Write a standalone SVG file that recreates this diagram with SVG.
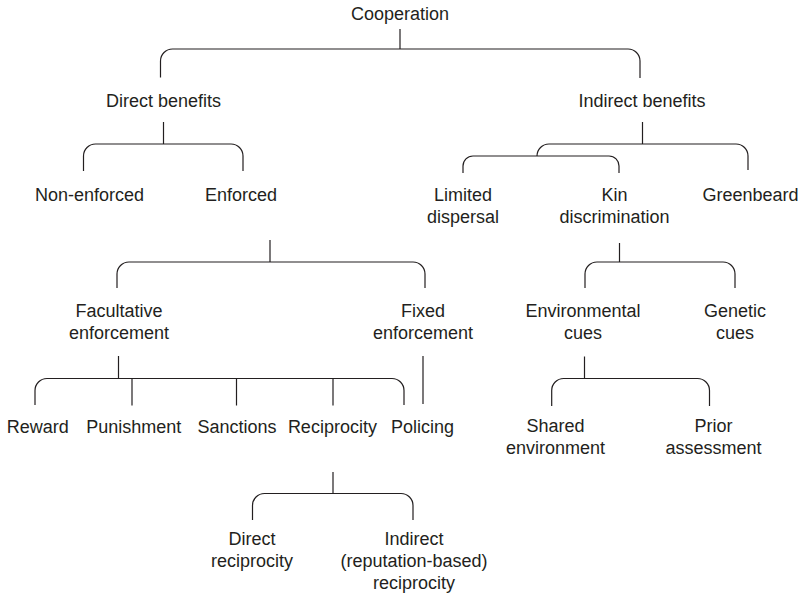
<svg xmlns="http://www.w3.org/2000/svg" width="806" height="595" viewBox="0 0 806 595">
<style>
text { font-family: "Liberation Sans", Arial, sans-serif; font-size: 18px; fill: #231f20; text-anchor: middle; }
.c path { fill: none; stroke: #231f20; stroke-width: 1.2; }
</style>
<rect width="806" height="595" fill="#ffffff"/>
<g class="c" id="connectors">
<path d="M400,29 V49"/>
<path d="M160.5,77.5 V61 A12,12 0 0 1 172.5,49 H628 A12,12 0 0 1 640,61 V78"/>
<path d="M163.5,122 V144"/>
<path d="M83.5,171 V156 A12,12 0 0 1 95.5,144 H231 A12,12 0 0 1 243,156 V171"/>
<path d="M642.5,122 V144"/>
<path d="M537,156 A12,12 0 0 1 549,144 H736 A12,12 0 0 1 748,156 V170"/>
<path d="M463,173 V166 A10,10 0 0 1 473,156 H609 A10,10 0 0 1 619,166 V173"/>
<path d="M270,240 V262"/>
<path d="M117,288 V274 A12,12 0 0 1 129,262 H413 A12,12 0 0 1 425,274 V288"/>
<path d="M619.5,243 V262"/>
<path d="M585,288 V274 A12,12 0 0 1 597,262 H723 A12,12 0 0 1 735,274 V288"/>
<path d="M118.5,356 V378.5"/>
<path d="M35,405 V390.5 A12,12 0 0 1 47,378.5 H392 A12,12 0 0 1 404,390.5 V405"/>
<path d="M132,378.5 V405.5"/>
<path d="M236.5,378.5 V405.5"/>
<path d="M333,378.5 V405.5"/>
<path d="M423,356 V404"/>
<path d="M584.5,356.5 V378.5"/>
<path d="M551.7,406 V390.5 A12,12 0 0 1 563.7,378.5 H697.5 A12,12 0 0 1 709.5,390.5 V406"/>
<path d="M333,472 V493.5"/>
<path d="M252.5,520 V505.5 A12,12 0 0 1 264.5,493.5 H401 A12,12 0 0 1 413,505.5 V520"/>
</g>
<g id="cooperation"><text x="400" y="20">Cooperation</text></g>
<g id="direct-benefits"><text x="163.5" y="107">Direct benefits</text></g>
<g id="indirect-benefits"><text x="642" y="107">Indirect benefits</text></g>
<g id="non-enforced"><text x="89.5" y="201">Non-enforced</text></g>
<g id="enforced"><text x="241" y="201">Enforced</text></g>
<g id="limited-dispersal"><text x="463" y="201">Limited</text><text x="463" y="223">dispersal</text></g>
<g id="kin-discrimination"><text x="614.5" y="201">Kin</text><text x="614.5" y="223">discrimination</text></g>
<g id="greenbeard"><text x="750.5" y="201">Greenbeard</text></g>
<g id="facultative-enforcement"><text x="119" y="317">Facultative</text><text x="119" y="338.5">enforcement</text></g>
<g id="fixed-enforcement"><text x="423" y="317">Fixed</text><text x="423" y="338.5">enforcement</text></g>
<g id="environmental-cues"><text x="583" y="317">Environmental</text><text x="583" y="338.5">cues</text></g>
<g id="genetic-cues"><text x="735" y="317">Genetic</text><text x="735" y="338.5">cues</text></g>
<g id="reward"><text x="37.8" y="433">Reward</text></g>
<g id="punishment"><text x="133.7" y="433">Punishment</text></g>
<g id="sanctions"><text x="237" y="433">Sanctions</text></g>
<g id="reciprocity"><text x="332.4" y="433">Reciprocity</text></g>
<g id="policing"><text x="422.5" y="433">Policing</text></g>
<g id="shared-environment"><text x="555.5" y="432">Shared</text><text x="555.5" y="454">environment</text></g>
<g id="prior-assessment"><text x="713.5" y="432">Prior</text><text x="713.5" y="454">assessment</text></g>
<g id="direct-reciprocity"><text x="252" y="545">Direct</text><text x="252" y="567">reciprocity</text></g>
<g id="indirect-reciprocity"><text x="414" y="545">Indirect</text><text x="414" y="567">(reputation-based)</text><text x="414" y="589">reciprocity</text></g>
</svg>
